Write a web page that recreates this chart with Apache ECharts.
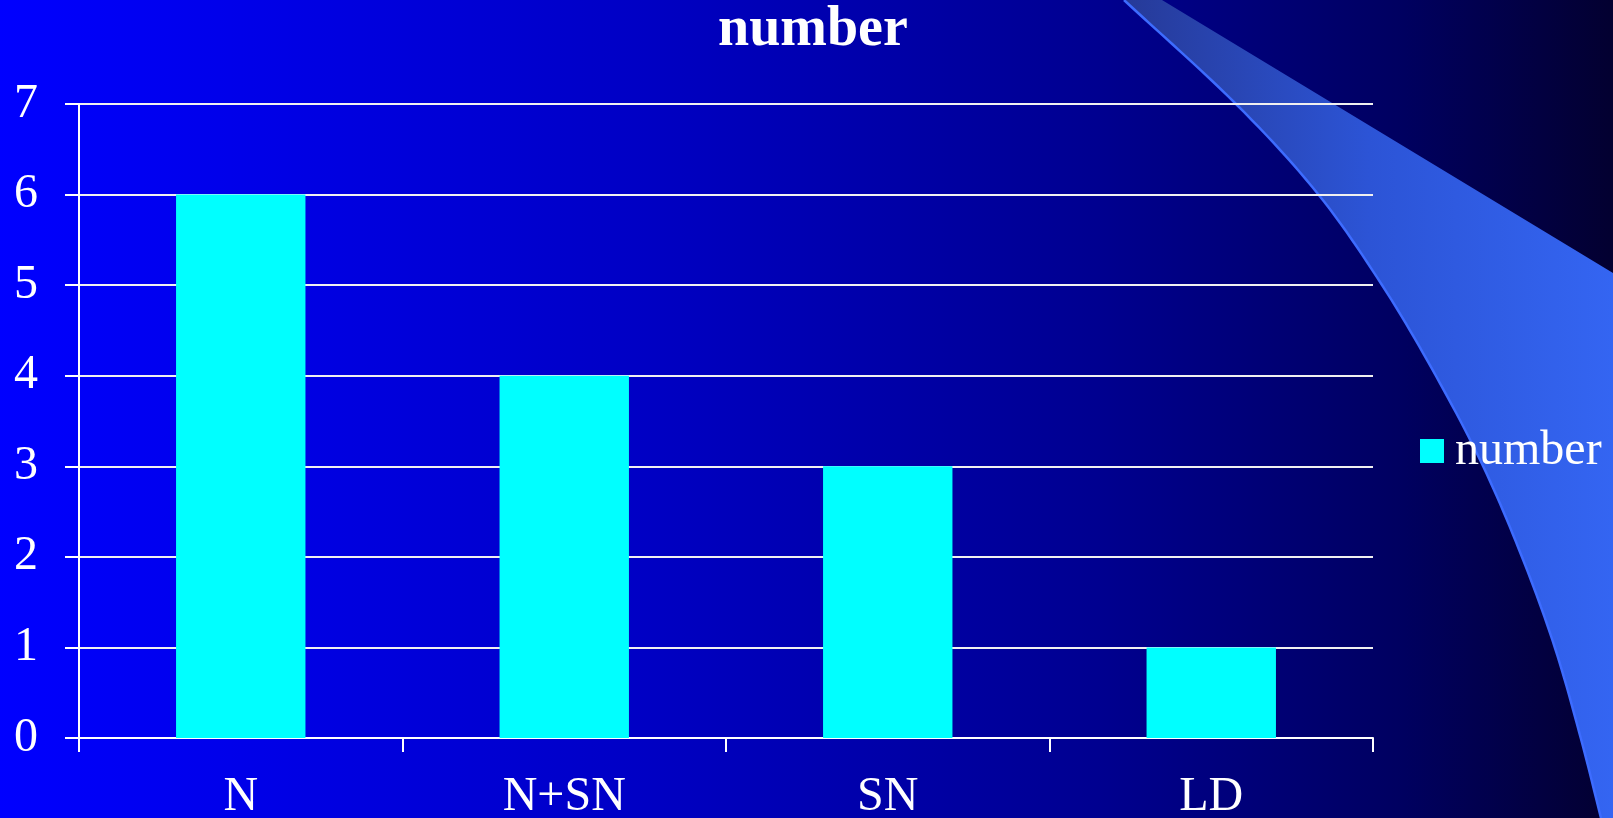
<!DOCTYPE html>
<html>
<head>
<meta charset="utf-8">
<script src="https://cdn.jsdelivr.net/npm/echarts@6/dist/echarts.min.js"></script>
<style>
html,body{margin:0;padding:0;width:1613px;height:818px;overflow:hidden;}
#chart{width:1613px;height:818px;}
</style>
</head>
<body>
<div id="chart"></div>
<script>
const categories = ['N', 'N+SN', 'SN', 'LD'];
const values = [6, 4, 3, 1];
const seriesName = 'number';
const titleText = 'number';

// decorative swoosh outline (background ornament, not data)
const edgePts = [[1124,0],[1236,104],[1318,194],[1382,285],[1436,376],[1483,466],[1522,557],[1555,648],[1581,739],[1601,818]];
function catmull(pts) {
  const out = [pts[0].slice()];
  const P = [[2*pts[0][0]-pts[1][0], 2*pts[0][1]-pts[1][1]]].concat(pts, [[2*pts[pts.length-1][0]-pts[pts.length-2][0], 2*pts[pts.length-1][1]-pts[pts.length-2][1]]]);
  for (let i = 1; i < P.length - 2; i++) {
    const p0 = P[i-1], p1 = P[i], p2 = P[i+1], p3 = P[i+2];
    for (let k = 1; k <= 12; k++) {
      const t = k / 12, t2 = t*t, t3 = t2*t;
      const f = (a, b, c, d) => 0.5 * ((2*b) + (-a + c)*t + (2*a - 5*b + 4*c - d)*t2 + (-a + 3*b - 3*c + d)*t3);
      out.push([f(p0[0], p1[0], p2[0], p3[0]), f(p0[1], p1[1], p2[1], p3[1])]);
    }
  }
  return out;
}
const edgeLine = catmull(edgePts);
const fillPoly = edgeLine.concat([[1613, 818], [1613, 273], [1162, 0]]);

const font = '"Liberation Serif", "Times New Roman", serif';
const chart = echarts.init(document.getElementById('chart'), null, {renderer: 'canvas'});
chart.setOption({
  backgroundColor: {
    type: 'linear', x: 0, y: 0, x2: 1, y2: 0,
    colorStops: [
      {offset: 0, color: '#0000FF'},
      {offset: 0.4, color: '#0000C4'},
      {offset: 0.68, color: '#000090'},
      {offset: 0.87, color: '#000060'},
      {offset: 1, color: '#030030'}
    ]
  },
  graphic: [
    {
      type: 'polygon', z: -10, silent: true,
      shape: {points: fillPoly},
      style: {
        fill: {type: 'linear', x: 1125, y: 0, x2: 1613, y2: 0, global: true,
          colorStops: [{offset: 0, color: '#263a98'}, {offset: 0.5, color: '#2c54d6'}, {offset: 1, color: '#3465f2'}]},
        stroke: null
      }
    },
    {
      type: 'polyline', z: -9, silent: true,
      shape: {points: edgeLine},
      style: {fill: null, stroke: '#3d6cff', lineWidth: 2.5}
    }
  ],
  title: {
    text: titleText,
    left: 718, top: 3, padding: 0,
    textStyle: {color: '#ffffff', fontFamily: font, fontWeight: 'bold', fontSize: 56}
  },
  legend: {
    data: [seriesName],
    orient: 'vertical',
    left: 1420, top: 427, padding: 0,
    icon: 'rect', itemWidth: 24, itemHeight: 24,
    textStyle: {color: '#ffffff', fontFamily: font, fontSize: 48, padding: [0, 0, 0, 6]}
  },
  grid: {left: 79, right: 240, top: 104, bottom: 80, containLabel: false, outerBoundsMode: 'none'},
  xAxis: {
    type: 'category',
    data: categories,
    axisLine: {show: true, lineStyle: {color: '#ffffff', width: 2}},
    axisTick: {show: true, length: 14, lineStyle: {color: '#ffffff', width: 2}},
    axisLabel: {color: '#ffffff', fontFamily: font, fontSize: 48, margin: 35},
    splitLine: {show: false}
  },
  yAxis: {
    type: 'value',
    min: 0, max: 7, interval: 1,
    axisLine: {show: true, lineStyle: {color: '#ffffff', width: 2}},
    axisTick: {show: true, length: 14, lineStyle: {color: '#ffffff', width: 2}},
    axisLabel: {color: '#ffffff', fontFamily: font, fontSize: 48, margin: 41, padding: [5, 0, 0, 0]},
    splitLine: {show: true, lineStyle: {color: '#f0f0f0', width: 2}}
  },
  series: [{
    name: seriesName,
    type: 'bar',
    data: values,
    barCategoryGap: '60%',
    itemStyle: {color: '#00FFFF'},
    animation: false
  }],
  animation: false
});
</script>
</body>
</html>
